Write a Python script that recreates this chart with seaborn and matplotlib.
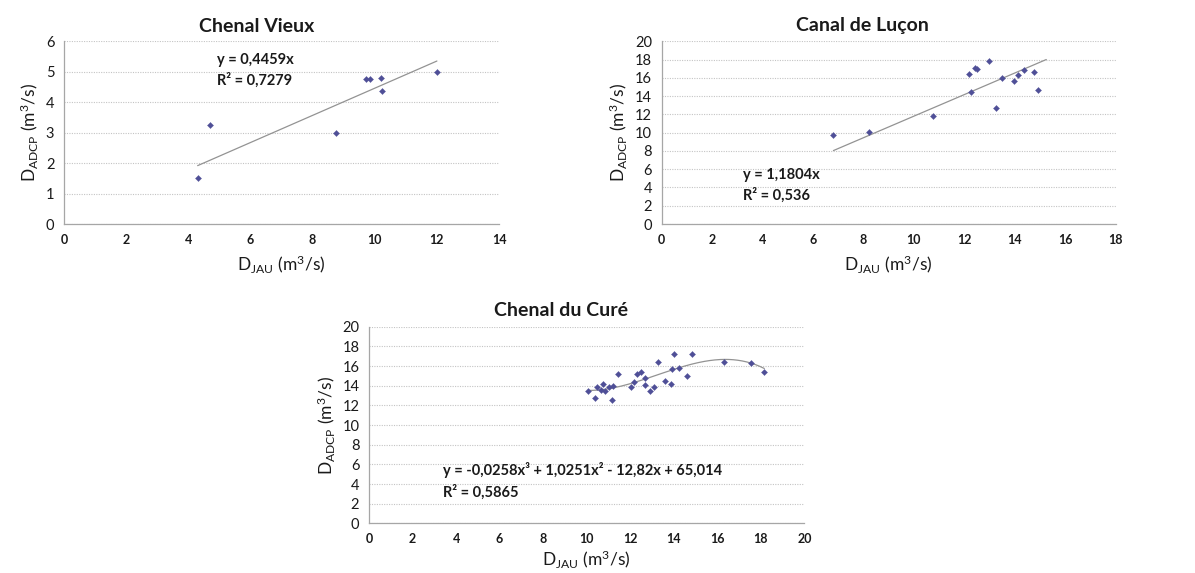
import numpy as np
import pandas as pd
import matplotlib
matplotlib.use("Agg")
import matplotlib.pyplot as plt
import seaborn as sns

# ---------------- data ----------------
titles = ["Chenal Vieux", "Canal de Luçon", "Chenal du Curé"]

cv_x = [4.30, 4.69, 8.76, 9.73, 9.86, 10.20, 10.24, 12.00]
cv_y = [1.50, 3.26, 3.00, 4.76, 4.76, 4.81, 4.38, 4.98]
cv_coef = [0.4459, 0.0]  # y = a x
cv_range = [4.30, 12.00]
cv_eq = "y = 0,4459x\nR² = 0,7279"

cl_x = [6.81, 8.21, 10.77, 12.17, 12.28, 12.44, 12.50, 12.98, 13.27, 13.51,
        13.97, 14.13, 14.35, 14.75, 14.92]
cl_y = [9.74, 10.04, 11.86, 16.46, 14.45, 17.08, 16.93, 17.85, 12.70, 15.99,
        15.66, 16.28, 16.82, 16.61, 14.67]
cl_coef = [1.1804, 0.0]
cl_range = [6.81, 15.25]
cl_eq = "y = 1,1804x\nR² = 0,536"

cc_x = [10.08, 10.40, 10.47, 10.64, 10.73, 10.84, 11.03, 11.15, 11.23, 11.45,
        12.04, 12.17, 12.30, 12.48, 12.70, 12.70, 12.91, 13.08, 13.29, 13.61,
        13.86, 13.90, 14.00, 14.24, 14.59, 14.85, 16.32, 17.56, 18.16]
cc_y = [13.49, 12.75, 13.86, 13.59, 14.20, 13.46, 13.83, 12.51, 14.00, 15.19,
        13.86, 14.34, 15.15, 15.39, 14.75, 14.03, 13.49, 13.83, 16.37, 14.44,
        14.20, 15.69, 17.22, 15.76, 15.02, 17.22, 16.44, 16.34, 15.42]
cc_coef = [-0.0258, 1.0251, -12.82, 65.014]
cc_range = [10.08, 18.16]
cc_eq = "y = -0,0258x³ + 1,0251x² - 12,82x + 65,014\nR² = 0,5865"

x_ticks = [np.arange(0, 15, 2), np.arange(0, 19, 2), np.arange(0, 21, 2)]
y_ticks = [np.arange(0, 7, 1), np.arange(0, 21, 2), np.arange(0, 21, 2)]

# ---------------- style ----------------
sns.set_theme(style="white")
plt.rcParams['font.family'] = ['Lato', 'DejaVu Sans']
plt.rcParams['mathtext.fontset'] = 'custom'
plt.rcParams['mathtext.rm'] = 'Lato'
plt.rcParams['mathtext.it'] = 'Lato'
plt.rcParams['mathtext.bf'] = 'Lato:bold'

PT = "#4F4F97"
GRID = "#C4C4C4"
AX = "#A6A6A6"
TXT = "#1a1a1a"

fig = plt.figure(figsize=(11.95, 5.73), dpi=100)

positions = [
    [0.0536, 0.609, 0.3640, 0.319],
    [0.5537, 0.609, 0.3799, 0.319],
    [0.3088, 0.0867, 0.3643, 0.3431],
]
title_pos = [(257 / 1195, 1 - 26 / 573), (862 / 1195, 1 - 26 / 573), (561 / 1195, 1 - 311 / 573)]
eq_pos = [(4.93, 5.62), (3.24, 6.15), (3.41, 6.2)]
xlabel_pad = [5, 5, 2]

datasets = [(cv_x, cv_y, cv_coef, cv_range, cv_eq),
            (cl_x, cl_y, cl_coef, cl_range, cl_eq),
            (cc_x, cc_y, cc_coef, cc_range, cc_eq)]

ylab = r"D$_{\mathrm{ADCP}}$ (m$^{3}$/s)"
xlab = r"D$_{\mathrm{JAU}}$ (m$^{3}$/s)"

for i, (xs, ys, coef, rng, eq) in enumerate(datasets):
    ax = fig.add_axes(positions[i])
    df = pd.DataFrame({"x": xs, "y": ys})
    xt = x_ticks[i]
    yt = y_ticks[i]
    # grid
    ax.set_axisbelow(True)
    ax.yaxis.grid(True, color=GRID, linestyle=(0, (1, 1.2)), linewidth=0.8)
    ax.xaxis.grid(False)
    # trend line
    xl = np.linspace(rng[0], rng[1], 200)
    yl = np.polyval(coef, xl)
    sns.lineplot(x=xl, y=yl, ax=ax, color="#939393", linewidth=0.9)
    sns.scatterplot(data=df, x="x", y="y", ax=ax, marker="D", s=10,
                    color=PT, edgecolor=PT, linewidth=0.2, zorder=3)
    ax.set_xlim(xt[0], xt[-1])
    ax.set_ylim(yt[0], yt[-1])
    ax.set_xticks(xt)
    ax.set_yticks(yt)
    ax.set_xticklabels([str(v) for v in xt], fontweight="bold", fontsize=9)
    ax.set_yticklabels([str(v) for v in yt], fontsize=10.5)
    for s in ["top", "right"]:
        ax.spines[s].set_visible(False)
    for s in ["left", "bottom"]:
        ax.spines[s].set_color(AX)
        ax.spines[s].set_linewidth(0.9)
    ax.tick_params(axis="both", which="both", length=4, width=0.8, color=AX,
                   direction="out", pad=3, labelcolor=TXT)
    ax.set_xlabel(xlab, fontsize=12.5, labelpad=xlabel_pad[i], color=TXT)
    ax.set_ylabel(ylab, fontsize=12.5, labelpad=4, color=TXT)
    ax.text(eq_pos[i][0], eq_pos[i][1], eq, fontsize=10.5, fontweight="bold",
            va="top", ha="left", linespacing=1.5, color=TXT)
    fig.text(title_pos[i][0], title_pos[i][1], titles[i], fontsize=14,
             fontweight="bold", ha="center", va="center", color=TXT)

fig.savefig("out.png", dpi=100)
